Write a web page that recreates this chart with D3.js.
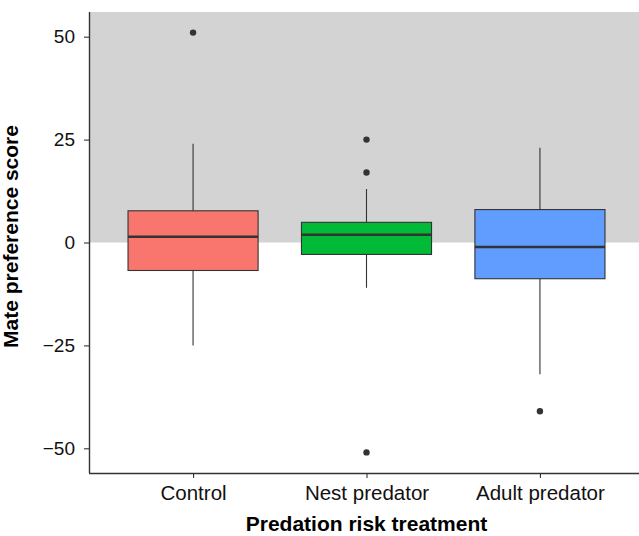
<!DOCTYPE html>
<html>
<head>
<meta charset="utf-8">
<script src="https://cdn.jsdelivr.net/npm/d3@7"></script>
<style>
  body { margin: 0; background: #fff; }
  svg { display: block; font-family: "Liberation Sans", Arial, sans-serif; }
</style>
</head>
<body>
<svg id="chart" width="639" height="536"></svg>
<script>
(function() {

  // treatments and their box statistics
  var categories = ['Control', 'Nest predator', 'Adult predator'];
  var colors = ['#F8766D', '#00BA38', '#619CFF'];
  var whiskerLow = [-25, -11, -32];
  var q1 = [-6.8, -2.9, -8.8];
  var median = [1.4, 1.9, -1.1];
  var q3 = [7.7, 4.9, 8.0];
  var whiskerHigh = [24, 13, 23];
  var outliers = [[51], [25, 17, -51], [-41]];
  var yTicks = [-50, -25, 0, 25, 50];

  var margin = { top: 12, left: 89, bottom: 63 };
  var width = 644, height = 536;
  var svg = d3.select('#chart');

  var x = d3.scaleLinear()
    .domain([0.4, categories.length + 0.6])
    .range([margin.left, width]);
  var y = d3.scaleLinear()
    .domain([-56, 56])
    .range([height - margin.bottom, margin.top]);

  var boxW = (x(1) - x(0)) * 0.75;

  // shaded region above zero
  svg.append('rect')
    .attr('x', margin.left)
    .attr('y', y(56))
    .attr('width', width - margin.left)
    .attr('height', y(0) - y(56))
    .attr('fill', '#d3d3d3');

  var boxes = svg.selectAll('g.box')
    .data(categories)
    .enter().append('g')
    .attr('class', 'box');

  boxes.append('line')
    .attr('x1', function(d, i) { return x(i + 1); })
    .attr('x2', function(d, i) { return x(i + 1); })
    .attr('y1', function(d, i) { return y(whiskerHigh[i]); })
    .attr('y2', function(d, i) { return y(q3[i]); })
    .attr('stroke', '#333').attr('stroke-width', 1.1);

  boxes.append('line')
    .attr('x1', function(d, i) { return x(i + 1); })
    .attr('x2', function(d, i) { return x(i + 1); })
    .attr('y1', function(d, i) { return y(q1[i]); })
    .attr('y2', function(d, i) { return y(whiskerLow[i]); })
    .attr('stroke', '#333').attr('stroke-width', 1.1);

  boxes.append('rect')
    .attr('x', function(d, i) { return x(i + 1) - boxW / 2; })
    .attr('y', function(d, i) { return y(q3[i]); })
    .attr('width', boxW)
    .attr('height', function(d, i) { return y(q1[i]) - y(q3[i]); })
    .attr('fill', function(d, i) { return colors[i]; })
    .attr('stroke', '#333').attr('stroke-width', 1.1);

  boxes.append('line')
    .attr('x1', function(d, i) { return x(i + 1) - boxW / 2; })
    .attr('x2', function(d, i) { return x(i + 1) + boxW / 2; })
    .attr('y1', function(d, i) { return y(median[i]); })
    .attr('y2', function(d, i) { return y(median[i]); })
    .attr('stroke', '#333').attr('stroke-width', 2.4);

  boxes.each(function(d, i) {
    d3.select(this).selectAll('circle')
      .data(outliers[i])
      .enter().append('circle')
      .attr('cx', x(i + 1))
      .attr('cy', function(v) { return y(v); })
      .attr('r', 3.2)
      .attr('fill', '#333');
  });

  // axes
  var yAxis = svg.append('g')
    .attr('transform', 'translate(' + margin.left + ',0)')
    .call(d3.axisLeft(y).tickValues(yTicks).tickSize(5).tickPadding(9)
      .tickFormat(function(v) { return v < 0 ? '\u2212' + Math.abs(v) : v; }));

  var xAxis = svg.append('g')
    .attr('transform', 'translate(0,' + (height - margin.bottom) + ')')
    .call(d3.axisBottom(x).tickValues([1, 2, 3]).tickSize(5).tickPadding(7)
      .tickFormat(function(v) { return categories[v - 1]; }));

  [yAxis, xAxis].forEach(function(g) {
    g.select('.domain').attr('stroke', '#333').attr('stroke-width', 1.4);
    g.selectAll('.tick line').attr('stroke', '#333').attr('stroke-width', 1.1);
    g.selectAll('.tick text').attr('fill', '#111');
  });
  yAxis.selectAll('.tick text').style('font-size', '19px');
  xAxis.selectAll('.tick text').style('font-size', '20.5px');
  yAxis.select('.domain').attr('d', 'M0.5,' + y(56) + 'V' + y(-56));
  xAxis.select('.domain').attr('d', 'M' + margin.left + ',0.5H' + width);

  svg.append('text')
    .attr('transform', 'translate(17.5,' + 236.5 + ') rotate(-90)')
    .attr('text-anchor', 'middle')
    .style('font-size', '21px')
    .style('font-weight', 'bold')
    .text('Mate preference score');

  svg.append('text')
    .attr('x', x(2))
    .attr('y', 531)
    .attr('text-anchor', 'middle')
    .style('font-size', '21px')
    .style('font-weight', 'bold')
    .text('Predation risk treatment');
})();
</script>
</body>
</html>
